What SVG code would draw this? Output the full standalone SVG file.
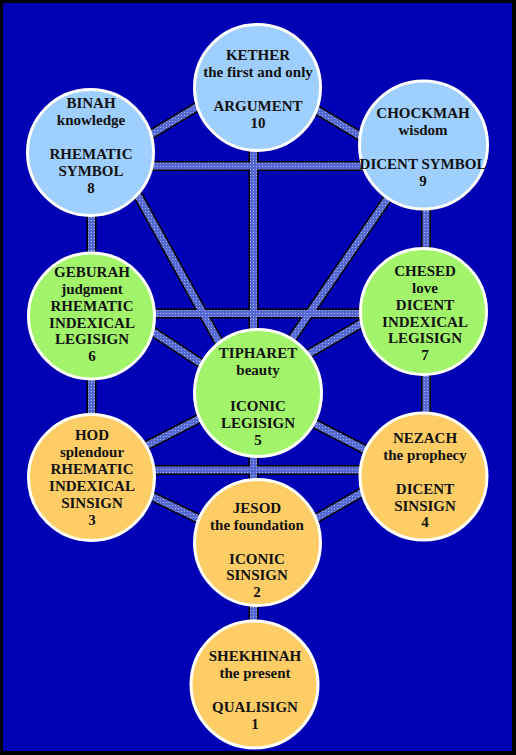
<svg xmlns="http://www.w3.org/2000/svg" width="516" height="755" viewBox="0 0 516 755">
<defs>
<pattern id="dots" x="0" y="0" width="3" height="3" patternUnits="userSpaceOnUse">
<rect width="3" height="3" fill="#5567d2"/>
<rect x="1" y="1" width="1" height="1" fill="#a6b6f0"/>
</pattern>
</defs>
<style>
.edge{fill:none}
.edge .o{stroke:#000;stroke-width:10}
.edge .i{stroke:url(#dots);stroke-width:7}
.node circle{stroke:#fff;stroke-width:3}
.blue circle{fill:#9fcfff}
.green circle{fill:#a2f56b}
.orange circle{fill:#ffcd66}
text{font-family:"Liberation Serif","Times New Roman",serif;font-weight:bold;font-size:15px;fill:#111;text-anchor:middle}
</style>
<rect x="0" y="0" width="516" height="755" fill="#000"/>
<rect x="3" y="3" width="509" height="748" fill="#0000b4"/>
<g id="connectors" class="edge">
<g class="o">
<line x1="120" y1="153" x2="240" y2="81"/>
<line x1="275" y1="85" x2="395" y2="157"/>
<line x1="253.5" y1="100" x2="253.5" y2="400"/>
<line x1="120" y1="166" x2="400" y2="166"/>
<line x1="91.5" y1="152" x2="91.5" y2="478"/>
<line x1="426" y1="145" x2="426" y2="476"/>
<line x1="114" y1="152" x2="247" y2="393"/>
<line x1="424" y1="145" x2="255" y2="393"/>
<line x1="91" y1="313.5" x2="424" y2="313.5"/>
<line x1="91" y1="291" x2="255" y2="399"/>
<line x1="424" y1="287" x2="255" y2="385"/>
<line x1="91" y1="474" x2="255" y2="390"/>
<line x1="255" y1="393" x2="424" y2="480"/>
<line x1="91" y1="470" x2="424" y2="470"/>
<line x1="91" y1="467" x2="257" y2="547"/>
<line x1="424" y1="457" x2="257" y2="552"/>
<line x1="253.5" y1="393" x2="253.5" y2="685"/>
</g>
<g class="i">
<line x1="120" y1="153" x2="240" y2="81"/>
<line x1="275" y1="85" x2="395" y2="157"/>
<line x1="253.5" y1="100" x2="253.5" y2="400"/>
<line x1="120" y1="166" x2="400" y2="166"/>
<line x1="91.5" y1="152" x2="91.5" y2="478"/>
<line x1="426" y1="145" x2="426" y2="476"/>
<line x1="114" y1="152" x2="247" y2="393"/>
<line x1="424" y1="145" x2="255" y2="393"/>
<line x1="91" y1="313.5" x2="424" y2="313.5"/>
<line x1="91" y1="291" x2="255" y2="399"/>
<line x1="424" y1="287" x2="255" y2="385"/>
<line x1="91" y1="474" x2="255" y2="390"/>
<line x1="255" y1="393" x2="424" y2="480"/>
<line x1="91" y1="470" x2="424" y2="470"/>
<line x1="91" y1="467" x2="257" y2="547"/>
<line x1="424" y1="457" x2="257" y2="552"/>
<line x1="253.5" y1="393" x2="253.5" y2="685"/>
</g>
</g>
<g id="kether" class="node blue">
<circle cx="257.5" cy="87.5" r="63"/>
<text x="258" y="60">KETHER</text>
<text x="258" y="77">the first and only</text>
<text x="258" y="111">ARGUMENT</text>
<text x="258" y="128">10</text>
</g>
<g id="binah" class="node blue">
<circle cx="90.5" cy="152.5" r="63"/>
<text x="91" y="108">BINAH</text>
<text x="91" y="125">knowledge</text>
<text x="91" y="159">RHEMATIC</text>
<text x="91" y="176">SYMBOL</text>
<text x="91" y="193">8</text>
</g>
<g id="chockmah" class="node blue">
<circle cx="423.5" cy="145" r="64"/>
<text x="423" y="118">CHOCKMAH</text>
<text x="423" y="135">wisdom</text>
<text x="423" y="169">DICENT SYMBOL</text>
<text x="423" y="186">9</text>
</g>
<g id="geburah" class="node green">
<circle cx="91.5" cy="316" r="63"/>
<text x="92" y="277">GEBURAH</text>
<text x="92" y="294">judgment</text>
<text x="92" y="311">RHEMATIC</text>
<text x="92" y="328">INDEXICAL</text>
<text x="92" y="344">LEGISIGN</text>
<text x="92" y="361">6</text>
</g>
<g id="chesed" class="node green">
<circle cx="423.5" cy="311.5" r="63"/>
<text x="425" y="276">CHESED</text>
<text x="425" y="293">love</text>
<text x="425" y="310">DICENT</text>
<text x="425" y="327">INDEXICAL</text>
<text x="425" y="343">LEGISIGN</text>
<text x="425" y="360">7</text>
</g>
<g id="tipharet" class="node green">
<circle cx="258" cy="393" r="63.5"/>
<text x="258" y="358">TIPHARET</text>
<text x="258" y="375">beauty</text>
<text x="258" y="411">ICONIC</text>
<text x="258" y="428">LEGISIGN</text>
<text x="258" y="445">5</text>
</g>
<g id="hod" class="node orange">
<circle cx="91.5" cy="477.5" r="63"/>
<text x="92" y="440">HOD</text>
<text x="92" y="457">splendour</text>
<text x="92" y="474">RHEMATIC</text>
<text x="92" y="491">INDEXICAL</text>
<text x="92" y="508">SINSIGN</text>
<text x="92" y="525">3</text>
</g>
<g id="nezach" class="node orange">
<circle cx="423.5" cy="476.5" r="63.5"/>
<text x="425" y="443">NEZACH</text>
<text x="425" y="460">the prophecy</text>
<text x="425" y="494">DICENT</text>
<text x="425" y="511">SINSIGN</text>
<text x="425" y="527">4</text>
</g>
<g id="jesod" class="node orange">
<circle cx="257.5" cy="542.5" r="63"/>
<text x="257" y="513">JESOD</text>
<text x="257" y="530">the foundation</text>
<text x="257" y="564">ICONIC</text>
<text x="257" y="580">SINSIGN</text>
<text x="257" y="597">2</text>
</g>
<g id="shekhinah" class="node orange">
<circle cx="254.5" cy="684.5" r="63.5"/>
<text x="255" y="661">SHEKHINAH</text>
<text x="255" y="678">the present</text>
<text x="255" y="712">QUALISIGN</text>
<text x="255" y="729">1</text>
</g>
</svg>
